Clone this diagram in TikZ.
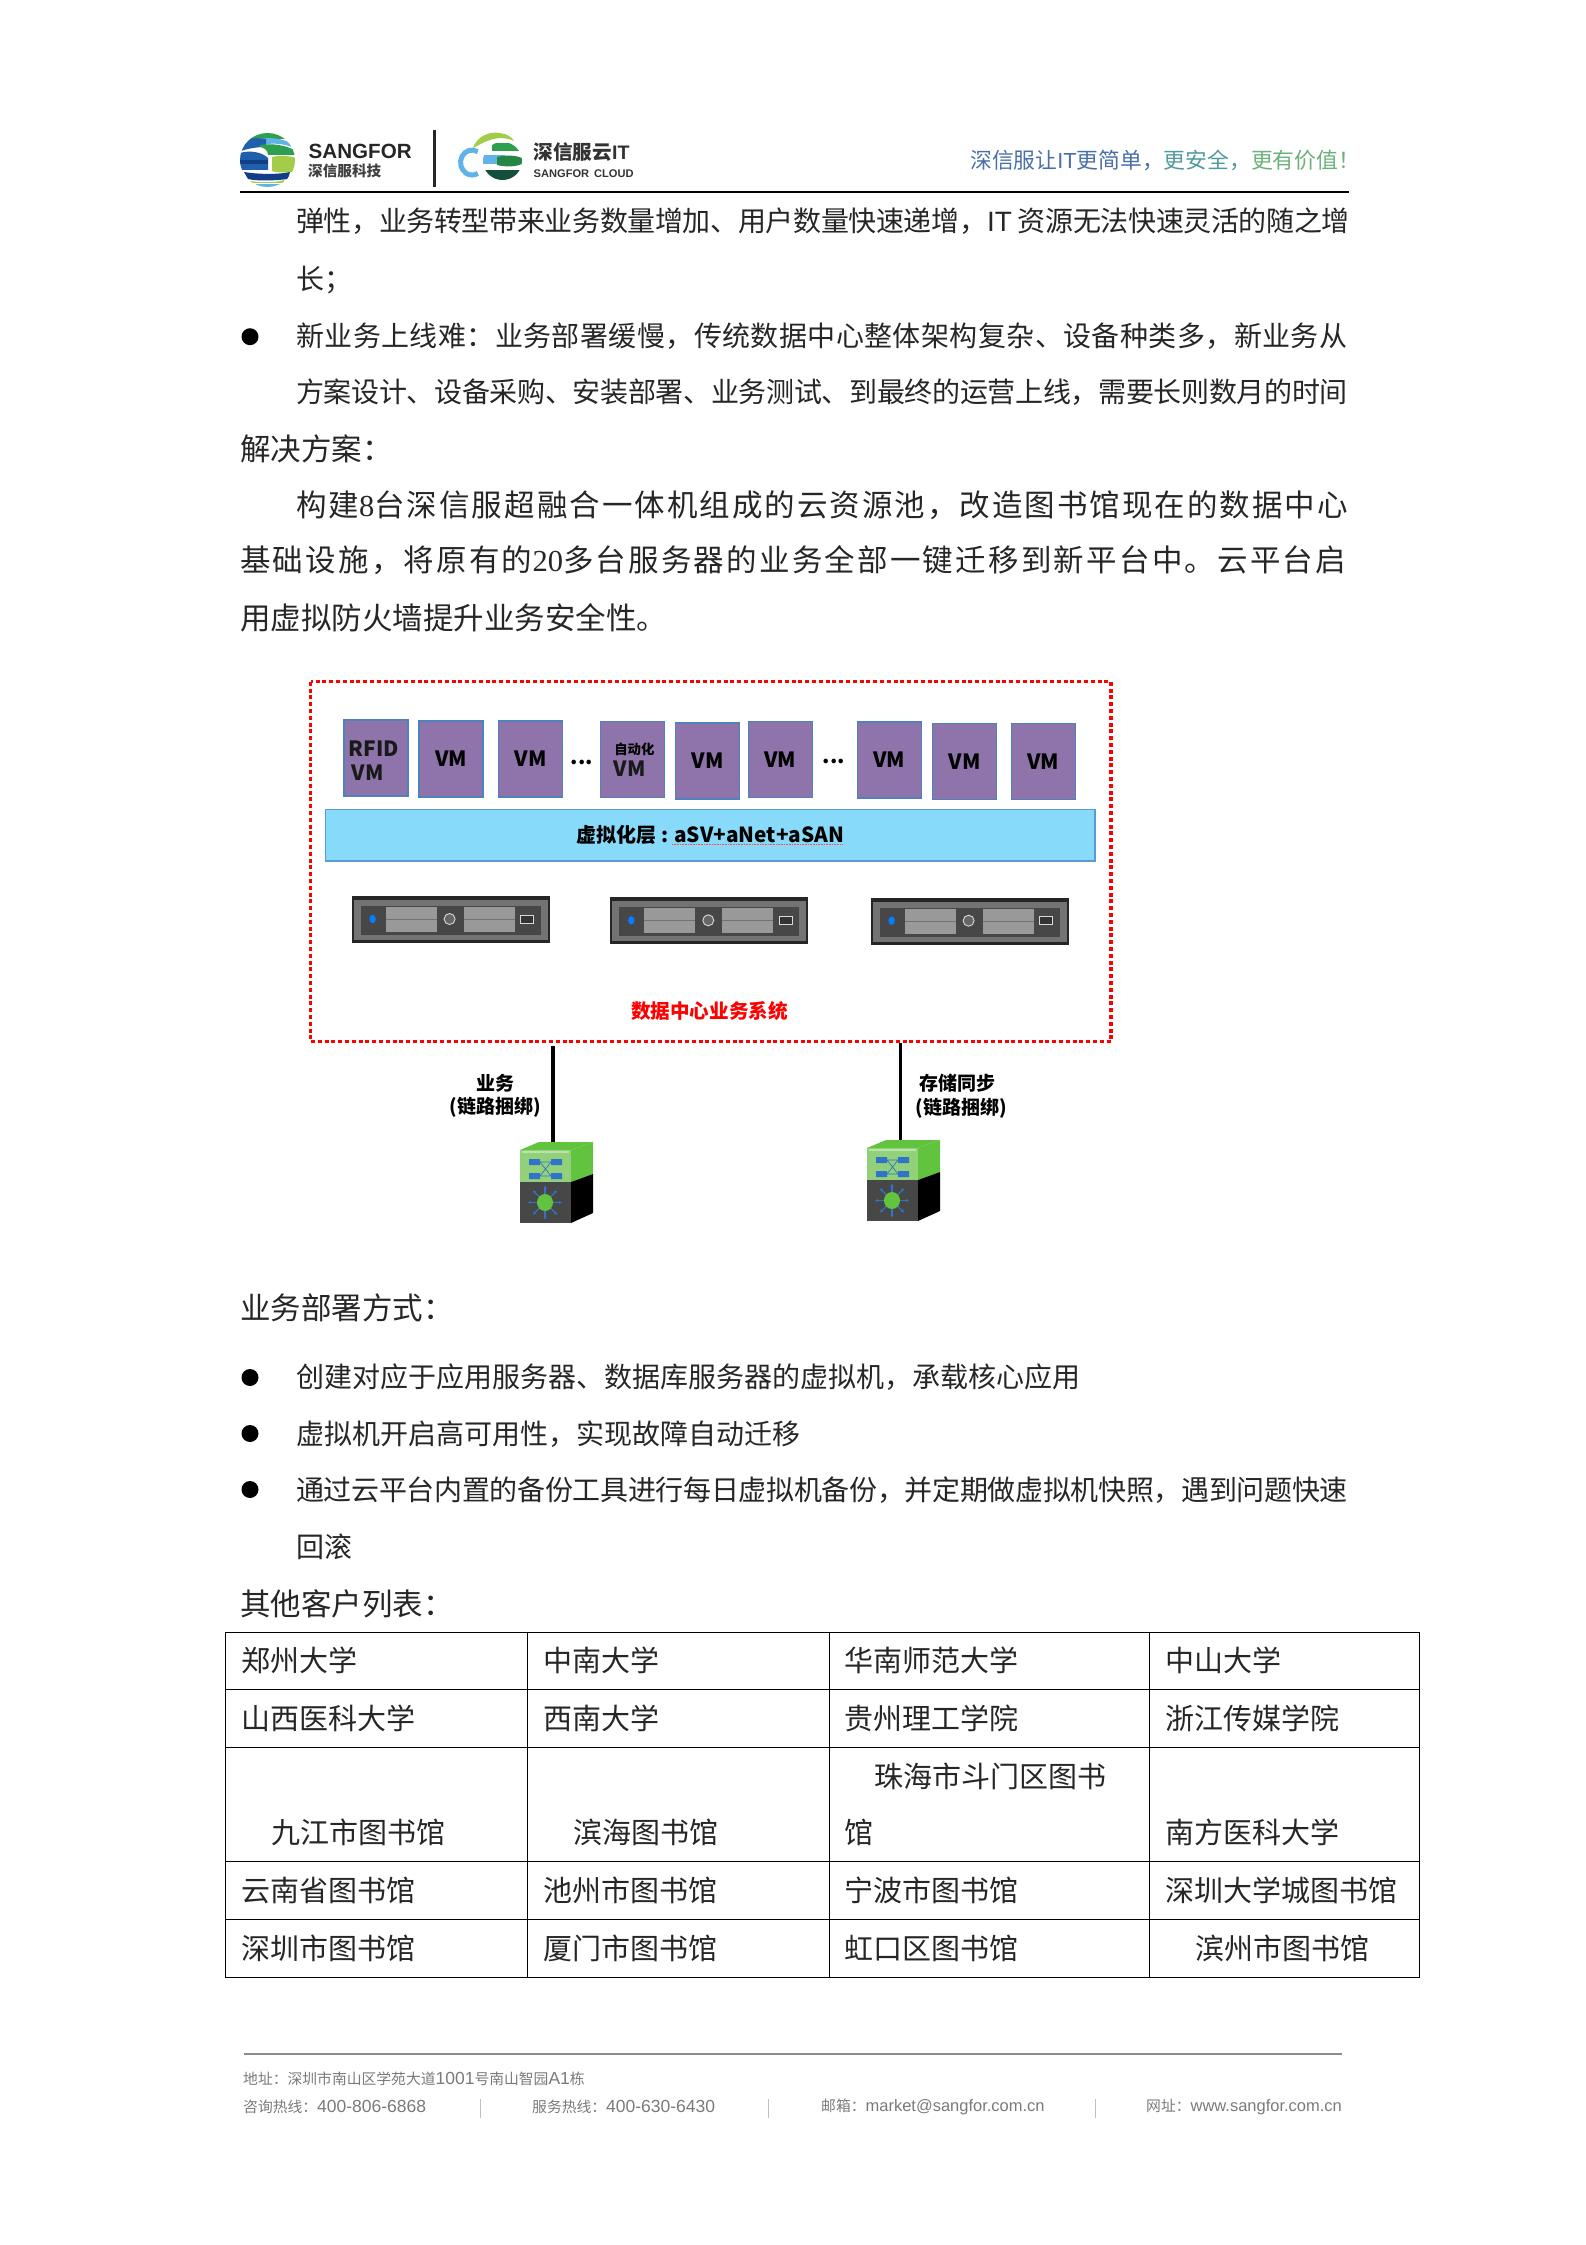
\documentclass[tikz,border=0pt]{standalone}
\usepackage{fontspec}
\usetikzlibrary{arrows.meta}
\setmainfont{Noto Sans CJK SC}
\newfontfamily\latserif{Liberation Serif}
\newfontfamily\latsans{Liberation Sans}
\font\sfhead="Liberation Sans/B" at 20.6pt
\font\sfsub="Liberation Sans/B" at 11.1pt
\font\itb="Liberation Sans/B" at 19.6pt
\definecolor{bodyink}{HTML}{262626}
\definecolor{vmfill}{HTML}{8E74AA}
\definecolor{vmedge}{HTML}{4F81BD}
\definecolor{bandfill}{HTML}{87DAF9}
\definecolor{bandedge}{HTML}{5B9BD5}
\definecolor{netblue}{HTML}{2F74C8}
\definecolor{swgreen}{HTML}{62C43E}
\definecolor{swlight}{HTML}{93D07A}
\definecolor{footgrey}{HTML}{7A7A7A}
\definecolor{lgreen}{HTML}{2E9E4F}
\definecolor{lyellow}{HTML}{A4CC4B}
\definecolor{lblue}{HTML}{1F5FAE}
\definecolor{ldark}{HTML}{123E86}
\definecolor{lsky}{HTML}{5FB3E6}
\definecolor{ldeep}{HTML}{134F3A}
\newcommand{\footlat}[1]{{\fontsize{17.5}{18}\selectfont\latsans #1}}
\newcommand{\footlatn}[1]{{\fontsize{16.5}{18}\selectfont\latsans #1}}
\newcommand{\spaced}[1]{\addfontfeature{LetterSpace=#1}}
\tikzset{
  tx/.style={anchor=west,inner sep=0pt,text=bodyink},
  bodyfont/.style={font=\fontsize{28}{32}\selectfont},
  headfont/.style={font=\fontsize{30.5}{34}\selectfont},
  cell/.style={tx,font=\fontsize{29}{32}\selectfont},
  bul/.style={circle,fill=black,inner sep=0pt,minimum size=17pt},
  vmbox/.style={draw=vmedge,line width=1.2pt,fill=vmfill,inner sep=0pt,minimum width=64pt,minimum height=76pt},
  vmt/.style={inner sep=0pt,font=\bfseries\fontsize{21}{24}\selectfont,text=black!90},
  dots/.style={inner sep=0pt,font=\bfseries\fontsize{21}{22}\selectfont},
  lab/.style={inner sep=0pt,font=\bfseries\fontsize{19}{22}\selectfont},
  foot/.style={anchor=west,inner sep=0pt,text=footgrey,font=\fontsize{14.8}{18}\selectfont},
  tline/.style={line width=1pt,black},
  pics/serverpic/.style={code={
    \fill[black!85] (0,0) rectangle (198,47);
    \fill[black!55] (2,4) rectangle (196,44);
    \fill[black!72] (9,10) rectangle (189,39);
    \fill[black!40] (34,11) rectangle (85,36);
    \fill[black!40] (112,11) rectangle (163,36);
    \draw[black!55,line width=0.8pt] (34,23.5) -- (85,23.5) (112,23.5) -- (163,23.5);
    \fill[blue!50!cyan] (21,23) ellipse (3.2 and 4.2);
    \draw[black!15,fill=black!60,line width=0.9pt] (98,23) ellipse (5.5 and 5.5);
    \draw[black!15,fill=black!80,line width=0.9pt] (169,19) rectangle (182,27);
  }},
  pics/switchpic/.style={code={
    \fill[swgreen] (0,8) -- (19,0) -- (73,0) -- (51,8) -- cycle;
    \fill[swgreen] (51,8) -- (73,0) -- (73,32) -- (51,40) -- cycle;
    \fill[black] (51,40) -- (73,32) -- (73,71) -- (51,81) -- cycle;
    \fill[swlight] (0,8) rectangle (51,40);
    \fill[white!55!swgreen] (2,9) rectangle (49,11);
    \fill[black!72] (0,40) rectangle (51,81);
    \fill[netblue] (9,17) rectangle (20,23) (31,17) rectangle (42,23) (9,31) rectangle (20,37) (31,31) rectangle (42,37);
    \draw[netblue,line width=0.7pt] (20,20) -- (31,20) (20,34) -- (31,34) (20,20) -- (31,34) (20,34) -- (31,20);
    \foreach \a in {0,45,...,315}{
      \draw[netblue,line width=1.1pt,-{Stealth[length=3.2pt,width=3.2pt]}] (25,60.5) ++(\a:8) -- ++(\a:9);
    }
    \fill[swgreen] (25,60.5) ellipse (8 and 8.5);
  }}
}
\begin{document}
\begin{tikzpicture}[x=1pt,y=-1pt]
\useasboundingbox (0,0) rectangle (1586,2245);
% ---------- header: SANGFOR logo
\begin{scope}
  \clip (267.5,160) ellipse (27.5 and 27);
  \fill[white] (240,132) rectangle (296,188);
  \fill[lgreen] (240,132) rectangle (296,139);
  \fill[lsky] (258,139) .. controls (270,137) and (282,138) .. (292,144) -- (292,147) .. controls (282,143) and (270,143) .. (260,145) -- cycle;
  \fill[lblue] (246,139) .. controls (252,138) and (258,138) .. (266,139) -- (266,147) .. controls (258,147) and (250,148) .. (241,151) -- cycle;
  \fill[lgreen] (260,145) .. controls (272,143) and (286,145) .. (296,151) -- (296,155) -- (268,155) .. controls (268,150) and (264,148) .. (260,147) -- cycle;
  \fill[lblue] (240,153) .. controls (250,150) and (262,152) .. (268,158) -- (268,170) -- (240,170) -- cycle;
  \fill[ldark] (240,160) -- (268,160) -- (268,164) -- (240,164) -- cycle;
  \fill[lyellow] (272,157) .. controls (280,155) and (290,156) .. (296,158) -- (296,171) .. controls (288,173) and (278,173) .. (272,171) -- cycle;
  \fill[ldark] (244,172) .. controls (256,174) and (276,175) .. (290,172) -- (288,179) .. controls (272,181) and (256,181) .. (248,179) -- cycle;
  \fill[lyellow] (246,180) .. controls (256,183) and (276,183) .. (284,180) -- (284,183) -- (250,183) -- cycle;
  \fill[lsky] (256,184) rectangle (280,188);
\end{scope}
\node[inner sep=0pt,anchor=west,font=\sfhead,text=black!85] (sfname) at (308.5,151) {SANGFOR};
\node[inner sep=0pt,anchor=west,font=\bfseries\fontsize{14.6}{16}\selectfont,text=black!75] (sfcn) at (308,171) {深信服科技};
\fill[black!85] (432.8,130) rectangle (435.6,187);
% cloud logo
\draw[lsky,line width=5pt] (477.8,151.7) arc[start angle=-60,end angle=-300,x radius=11.5,y radius=12.5];
\begin{scope}
  \clip (502.5,161) ellipse (19.5 and 19);
  \fill[white] (480,140) rectangle (525,182);
  \fill[lgreen] (492,143) rectangle (520,151);
  \fill[lsky] (483,155) rectangle (505,164);
  \fill[lgreen!85!black] (497,157) .. controls (505,155) and (515,155) .. (522,158) -- (522,164) .. controls (515,167) and (505,167) .. (497,165) -- cycle;
  \fill[ldeep] (485,170) rectangle (522,182);
\end{scope}
\fill[lyellow] (473,148) .. controls (477,136) and (490,131) .. (500,133) .. controls (507,134) and (512,137) .. (514,141) .. controls (508,138) and (498,137) .. (490,140) .. controls (483,142) and (478,146) .. (473,148) -- cycle;
\node[inner sep=0pt,anchor=west,font=\bfseries\fontsize{19.6}{22}\selectfont,text=black!80] (cloudcn) at (533.5,152) {深信服云{\itb IT}};
\node[inner sep=0pt,anchor=west,font=\sfsub,text=black!80] (cloudname) at (533.5,174) {SANGFOR\hspace{5pt}CLOUD};
\node[inner sep=0pt,anchor=west,font=\fontsize{21.8}{24}\selectfont] (slogan) at (970,160) {\textcolor[HTML]{4A6EA8}{深信服让{\latsans IT}更简单^^^^ff0c}\textcolor[HTML]{4F9A9E}{更安全^^^^ff0c}\textcolor[HTML]{6CB07A}{更有价值^^^^ff01}};
\fill[black] (240,191) rectangle (1349,193);
% ---------- body text
\node[tx,bodyfont] (l1) at (296,221.5) {\spaced{-1.35}弹性^^^^ff0c业务转型带来业务数量增加、用户数量快速递增^^^^ff0c{\latsans IT} 资源无法快速灵活的随之增};
\node[tx,bodyfont] (l2) at (296,280) {长^^^^ff1b};
\node[bul] (b1) at (250,336.7) {};
\node[tx,bodyfont] (l3) at (296,336) {\spaced{1.5}新业务上线难^^^^ff1a业务部署缓慢^^^^ff0c传统数据中心整体架构复杂、设备种类多^^^^ff0c新业务从};
\node[tx,bodyfont] (l4) at (296,392) {\spaced{-1.2}方案设计、设备采购、安装部署、业务测试、到最终的运营上线^^^^ff0c需要长则数月的时间};
\node[tx,headfont] (l5) at (240,449) {解决方案^^^^ff1a};
\node[tx,headfont] (l6) at (296,505) {\spaced{6.6}构建{\latserif 8}台深信服超融合一体机组成的云资源池^^^^ff0c改造图书馆现在的数据中心};
\node[tx,headfont] (l7) at (240,560) {\spaced{7.3}基础设施^^^^ff0c将原有的{\latserif 20}多台服务器的业务全部一键迁移到新平台中。云平台启};
\node[tx,headfont] (l8) at (240,618) {用虚拟防火墙提升业务安全性。};
% ---------- diagram
\draw[red,line width=3.3pt,dash pattern=on 4pt off 2.8pt] (310.5,681.7) rectangle (1111,1041.7);
\node[vmbox] (vm1) at (376,758) {};
\node[vmt,anchor=center] (vm1a) at (374,749) {RFID};
\node[vmt,anchor=center] (vm1b) at (367.7,772.7) {VM};
\node[vmbox] (vm2) at (451,759) {\bfseries\fontsize{21}{24}\selectfont VM};
\node[vmbox] (vm3) at (530.5,759) {\bfseries\fontsize{21}{24}\selectfont VM};
\node[dots] (d1) at (582,762) {...};
\node[vmbox] (vm4) at (632.5,759.5) {};
\node[inner sep=0pt,font=\bfseries\fontsize{13.4}{15}\selectfont] (vm4a) at (634.4,749) {自动化};
\node[vmt] (vm4b) at (629.6,769) {VM};
\node[vmbox] (vm5) at (707.5,761) {\bfseries\fontsize{21}{24}\selectfont VM};
\node[vmbox] (vm6) at (780.3,759.7) {\bfseries\fontsize{21}{24}\selectfont VM};
\node[dots] (d2) at (834,761) {...};
\node[vmbox] (vm7) at (889.3,760) {\bfseries\fontsize{21}{24}\selectfont VM};
\node[vmbox] (vm8) at (964.7,761.3) {\bfseries\fontsize{21}{24}\selectfont VM};
\node[vmbox] (vm9) at (1043.2,761.3) {\bfseries\fontsize{21}{24}\selectfont VM};
\node[draw=bandedge,line width=1.2pt,fill=bandfill,inner sep=0pt,minimum width=769.6pt,minimum height=51.3pt,font=\bfseries\fontsize{20}{22}\selectfont] (band) at (710.2,835.4) {虚拟化层\hspace{5.5pt}:\hspace{5.5pt}{\fontsize{20.8}{22}\selectfont aSV+aNet+aSAN}};
\draw[red!70,line width=0.6pt,densely dotted] (672,844) -- (842,844);
\pic at (351.6,896) {serverpic};
\pic at (610.3,897.3) {serverpic};
\pic at (870.6,897.7) {serverpic};
\node[inner sep=0pt,text=red,font=\bfseries\fontsize{19.6}{22}\selectfont] (dclabel) at (709.4,1011) {数据中心业务系统};
\coordinate (bus1) at (553,1046);
\coordinate (sw1top) at (553,1142);
\coordinate (bus2) at (900.5,1043);
\coordinate (sw2top) at (900.5,1140);
\draw[black,line width=3.4pt] (bus1) -- (sw1top);
\draw[black,line width=3.4pt] (bus2) -- (sw2top);
\node[lab] (s1a) at (495,1083) {业务};
\node[lab] (s1b) at (495,1107) {(链路捆绑)};
\node[lab] (s2a) at (957,1083) {存储同步};
\node[lab] (s2b) at (961.5,1108) {(链路捆绑)};
\pic at (520,1142) {switchpic};
\pic at (867,1140) {switchpic};
% ---------- lower text
\node[tx,headfont] (h2) at (240,1308) {业务部署方式^^^^ff1a};
\node[bul] (b2) at (250,1377.5) {};
\node[tx,bodyfont] (t2) at (296,1377) {创建对应于应用服务器、数据库服务器的虚拟机^^^^ff0c承载核心应用};
\node[bul] (b3) at (250,1433.5) {};
\node[tx,bodyfont] (t3) at (296,1434) {虚拟机开启高可用性^^^^ff0c实现故障自动迁移};
\node[bul] (b4) at (250,1489.5) {};
\node[tx,bodyfont] (t4) at (296,1490) {\spaced{-1.2}通过云平台内置的备份工具进行每日虚拟机备份^^^^ff0c并定期做虚拟机快照^^^^ff0c遇到问题快速};
\node[tx,bodyfont] (t5) at (296,1547) {回滚};
\node[tx,headfont] (h3) at (240,1604) {其他客户列表^^^^ff1a};
% ---------- table
\draw[tline] (225.3,1632.3) rectangle (1419,1977);
\draw[tline] (225.3,1689.3) -- (1419,1689.3) (225.3,1747) -- (1419,1747) (225.3,1861.3) -- (1419,1861.3) (225.3,1919.3) -- (1419,1919.3);
\draw[tline] (527.7,1632.3) -- (527.7,1977) (829,1632.3) -- (829,1977) (1149.3,1632.3) -- (1149.3,1977);
\node[cell] (c11) at (241,1660) {郑州大学};
\node[cell] (c12) at (543,1660) {中南大学};
\node[cell] (c13) at (844,1660) {华南师范大学};
\node[cell] (c14) at (1165.5,1660) {中山大学};
\node[cell] (c21) at (241,1718) {山西医科大学};
\node[cell] (c22) at (543,1718) {西南大学};
\node[cell] (c23) at (844,1718) {贵州理工学院};
\node[cell] (c24) at (1165.5,1718) {浙江传媒学院};
\node[cell] (c31) at (271,1832) {九江市图书馆};
\node[cell] (c32) at (573,1832) {滨海图书馆};
\node[cell] (c33a) at (874,1776) {珠海市斗门区图书};
\node[cell] (c33b) at (844,1832) {馆};
\node[cell] (c34) at (1165.5,1832) {南方医科大学};
\node[cell] (c41) at (241,1890) {云南省图书馆};
\node[cell] (c42) at (543,1890) {池州市图书馆};
\node[cell] (c43) at (844,1890) {宁波市图书馆};
\node[cell] (c44) at (1165.5,1890) {深圳大学城图书馆};
\node[cell] (c51) at (241,1948) {深圳市图书馆};
\node[cell] (c52) at (543,1948) {厦门市图书馆};
\node[cell] (c53) at (844,1948) {虹口区图书馆};
\node[cell] (c54) at (1195.5,1948) {滨州市图书馆};
% ---------- footer
\draw[black!45,line width=1.2pt] (243.5,2054) -- (1342,2054);
\node[foot] (f1) at (243,2079) {地址^^^^ff1a深圳市南山区学苑大道\footlat{1001}号南山智园\footlat{A1}栋};
\node[foot] (f2) at (243,2107) {咨询热线^^^^ff1a\footlat{400-806-6868}};
\node[foot] (f3) at (532,2107) {服务热线^^^^ff1a\footlat{400-630-6430}};
\node[foot] (f4) at (821,2107) {邮箱^^^^ff1a\footlatn{market@sangfor.com.cn}};
\node[foot] (f5) at (1146,2107) {网址^^^^ff1a\footlatn{www.sangfor.com.cn}};
\draw[black!25,line width=1pt] (480,2099) -- (480,2118) (768,2099) -- (768,2118) (1095,2099) -- (1095,2118);
\end{tikzpicture}
\end{document}
